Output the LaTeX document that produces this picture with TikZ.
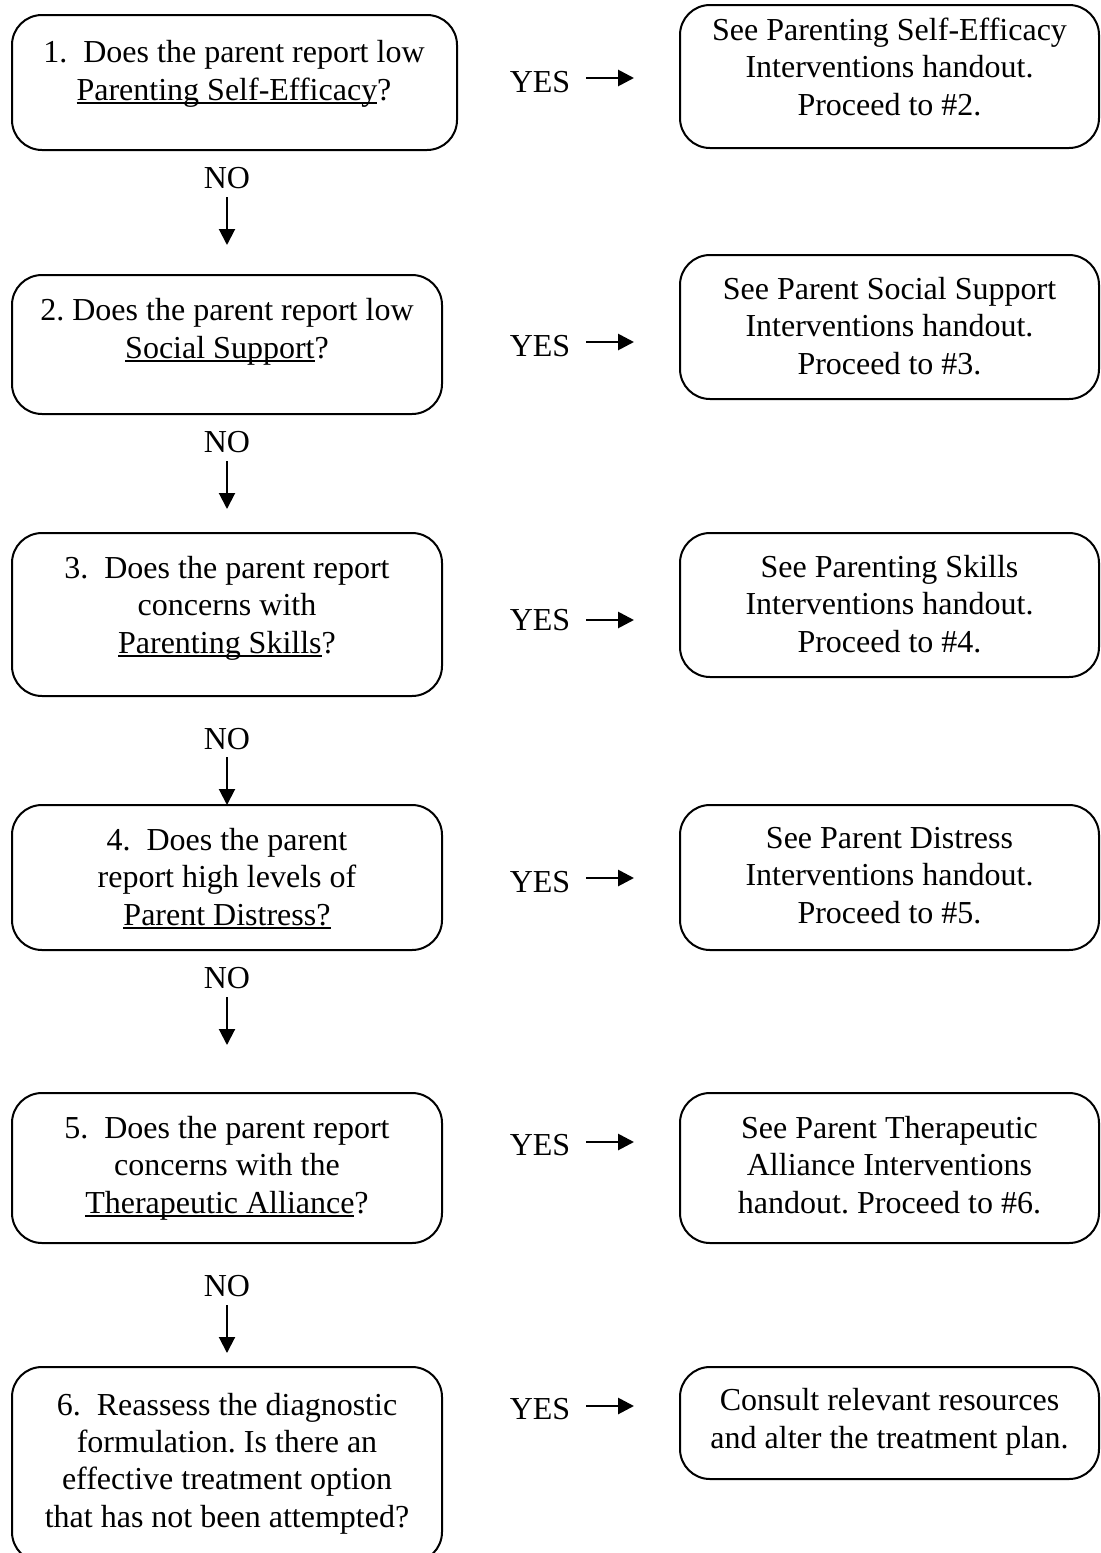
\documentclass[tikz,border=0pt]{standalone}
\usepackage{fontspec}
\setmainfont{Liberation Serif}
\usetikzlibrary{arrows.meta}
\newsavebox{\ulinebox}
\newcommand{\undl}[1]{\sbox{\ulinebox}{#1}\leavevmode\rlap{\rule[-2pt]{\wd\ulinebox}{0.8pt}}\usebox{\ulinebox}}
\frenchspacing
\begin{document}
\begin{tikzpicture}[x=0.5pt,y=-0.5pt,
  qbox/.style={draw, line width=1pt, rounded corners=15pt, inner sep=0pt},
  txt/.style={align=center, inner sep=0pt, anchor=base, font=\fontsize{16}{18.6}\selectfont},
  lab/.style={inner sep=0pt, anchor=base, font=\fontsize{16}{18.6}\selectfont},
  noarrow/.style={line width=1pt, -{Triangle[length=8pt,width=8pt]}},
  yesarrow/.style={line width=1.4pt, -{Triangle[length=8pt,width=8pt]}}]
\useasboundingbox (0,0) rectangle (1101,1553);
\clip (0,0) rectangle (1101,1553);

% left frames
\node[qbox, minimum width=222.5pt, minimum height=67.5pt] (q1) at (234.5,82.5) {};
\node[qbox, minimum width=215pt, minimum height=69.5pt] (q2) at (227,344.5) {};
\node[qbox, minimum width=215pt, minimum height=81.5pt] (q3) at (227,614.5) {};
\node[qbox, minimum width=215pt, minimum height=72.5pt] (q4) at (227,877.5) {};
\node[qbox, minimum width=215pt, minimum height=75pt] (q5) at (227,1168) {};
\node[qbox, minimum width=215pt, minimum height=97.5pt] (q6) at (227,1464.5) {};

% right frames
\node[qbox, minimum width=209.5pt, minimum height=71.5pt] (a1) at (889.5,76.5) {};
\node[qbox, minimum width=209.5pt, minimum height=72pt] (a2) at (889.5,327) {};
\node[qbox, minimum width=209.5pt, minimum height=72pt] (a3) at (889.5,605) {};
\node[qbox, minimum width=209.5pt, minimum height=72.5pt] (a4) at (889.5,877.5) {};
\node[qbox, minimum width=209.5pt, minimum height=75pt] (a5) at (889.5,1168) {};
\node[qbox, minimum width=209.5pt, minimum height=56pt] (a6) at (889.5,1423) {};

% left texts (anchored at the baseline of the last line)
\node[txt] (tq1) at (234,100) {1.\ \ Does the parent report low\\\undl{Parenting Self-Efficacy}?};
\node[txt] (tq2) at (227,358) {2. Does the parent report low\\\undl{Social Support}?};
\node[txt] (tq3) at (227,653) {3.\ \ Does the parent report\\concerns with\\\undl{Parenting Skills}?};
\node[txt] (tq4) at (227,925) {4.\ \ Does the parent\\report high levels of\\\undl{Parent Distress?}};
\node[txt] (tq5) at (227,1213) {5.\ \ Does the parent report\\concerns with the\\\undl{Therapeutic Alliance}?};
\node[txt] (tq6) at (227,1527) {6.\ \ Reassess the diagnostic\\formulation. Is there an\\effective treatment option\\that has not been attempted?};

% right texts
\node[txt] (ta1) at (889.5,115) {See Parenting Self-Efficacy\\Interventions handout.\\Proceed to \#2.};
\node[txt] (ta2) at (889.5,374) {See Parent Social Support\\Interventions handout.\\Proceed to \#3.};
\node[txt] (ta3) at (889.5,652) {See Parenting Skills\\Interventions handout.\\Proceed to \#4.};
\node[txt] (ta4) at (889.5,923) {See Parent Distress\\Interventions handout.\\Proceed to \#5.};
\node[txt] (ta5) at (889.5,1213) {See Parent Therapeutic\\Alliance Interventions\\handout. Proceed to \#6.};
\node[txt] (ta6) at (889.5,1448) {Consult relevant resources\\and alter the treatment plan.};

% YES labels and arrows
\foreach \i/\yb/\ya in {1/92/78, 2/356/342, 3/630/620, 4/892/878, 5/1155/1142, 6/1419/1406} {
  \node[lab] (yes\i) at (540,\yb) {YES};
  \coordinate (ys\i) at (586,\ya);
  \coordinate (ye\i) at (634,\ya);
  \draw[yesarrow] (ys\i) -- (ye\i);
}

% NO labels and arrows
\foreach \i/\yb/\ys/\ye in {1/188/197/245, 2/452/461/509, 3/749/757/805, 4/988/997/1045, 5/1296/1305/1353} {
  \node[lab] (no\i) at (227,\yb) {NO};
  \coordinate (ns\i) at (227,\ys);
  \coordinate (ne\i) at (227,\ye);
  \draw[noarrow] (ns\i) -- (ne\i);
}
\end{tikzpicture}
\end{document}
